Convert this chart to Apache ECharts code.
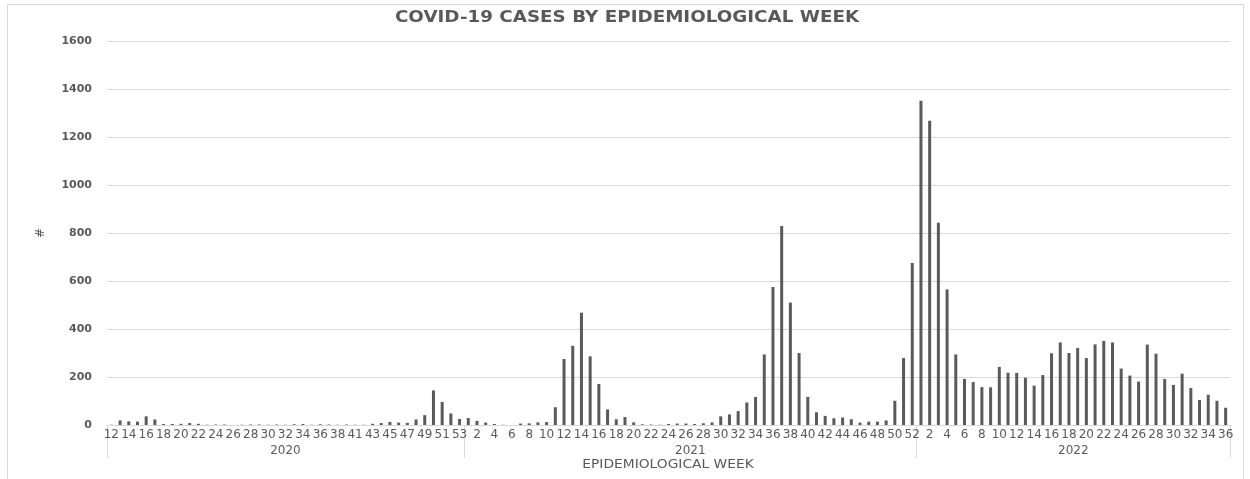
<!DOCTYPE html>
<html>
<head>
<meta charset="utf-8">
<script src="https://cdn.jsdelivr.net/npm/echarts@6/dist/echarts.min.js"></script>
<style>html,body{margin:0;padding:0;background:#fff}#c{width:1250px;height:479px}</style>
</head>
<body>
<div id="c"></div>
<script>
// ---- data ----
const years = ['2020', '2021', '2022'];
const weeks2020 = [12,13,14,15,16,17,18,19,20,21,22,23,24,25,26,27,28,29,30,31,32,33,34,35,36,37,38,40,41,42,43,44,45,46,47,48,49,50,51,52,53];
const cases2020 = [1,19,15,14,36,23,4,4,5,8,5,1,2,2,0,1,2,2,1,2,1,3,4,1,3,2,1,2,1,1,5,8,13,10,9,23,41,144,96,48,25];
const weeks2021 = [1,2,3,4,5,6,7,8,9,10,11,12,13,14,15,16,17,18,19,20,21,22,23,24,25,26,27,28,29,30,31,32,33,34,35,36,37,38,39,40,41,42,43,44,45,46,47,48,49,50,51,52];
const cases2021 = [29,17,10,4,1,0,6,7,11,12,74,275,330,468,286,171,65,24,33,11,3,2,1,4,6,6,4,7,11,36,44,58,94,117,294,575,829,510,300,117,53,38,28,31,24,10,14,14,19,101,279,675];
const weeks2022 = [1,2,3,4,5,6,7,8,9,10,11,12,13,14,15,16,17,18,19,20,21,22,23,24,25,26,27,28,29,30,31,32,33,34,35,36];
const cases2022 = [1351,1268,843,565,294,192,179,158,157,242,218,217,197,164,208,299,344,300,321,279,336,350,344,235,206,181,335,297,192,167,214,154,104,126,101,72];
const yTicks = [0,200,400,600,800,1000,1200,1400,1600];
const titleText = 'COVID-19 CASES BY EPIDEMIOLOGICAL WEEK';
const xTitle = 'EPIDEMIOLOGICAL WEEK';

const weekLists = [weeks2020, weeks2021, weeks2022];
const caseLists = [cases2020, cases2021, cases2022];
const categories = [].concat(...weekLists.map(w => w.map(String)));
const values = [].concat(...caseLists);
const bounds = [0];
weekLists.forEach(w => bounds.push(bounds[bounds.length - 1] + w.length));
const mids = years.map((y, i) => (bounds[i] + bounds[i + 1]) / 2);
const total = categories.length;

const chart = echarts.init(document.getElementById('c'));
const grey = '#595959';
chart.setOption({
  animation: false,
  graphic: [{
    type: 'rect', shape: { x: 7.5, y: 4.5, width: 1236, height: 480 },
    style: { fill: null, stroke: '#d9d9d9', lineWidth: 1 }, silent: true
  }, {
    type: 'text', x: 627, y: 11, scaleX: 1.22, silent: true,
    style: { text: titleText, textAlign: 'center', textVerticalAlign: 'top', fill: grey,
      font: 'bold 15px "DejaVu Sans"' }
  }, {
    type: 'text', x: 668, y: 459, scaleX: 1.15, silent: true,
    style: { text: xTitle, textAlign: 'center', textVerticalAlign: 'top', fill: grey,
      font: '12px "DejaVu Sans"' }
  }],
  grid: { left: 107, right: 20, top: 41, bottom: 54 },
  xAxis: [{
    type: 'category',
    data: categories,
    axisLine: { lineStyle: { color: '#d9d9d9' } },
    axisTick: { show: false },
    axisLabel: { interval: 1, margin: 4, fontFamily: 'DejaVu Sans', fontSize: 12, color: grey }
  }, {
    type: 'value', min: 0, max: total, position: 'bottom',
    axisLine: { show: false },
    splitLine: { show: false },
    axisTick: { show: true, customValues: bounds, length: 33, lineStyle: { color: '#d9d9d9' } },
    axisLabel: {
      customValues: mids, margin: 20, fontFamily: 'DejaVu Sans', fontSize: 12, color: grey,
      formatter: v => { for (let i = 0; i < years.length; i++) { if (v > bounds[i] && v < bounds[i + 1]) return years[i]; } return ''; }
    }
  }],
  yAxis: {
    type: 'value', min: yTicks[0], max: yTicks[yTicks.length - 1], interval: yTicks[1] - yTicks[0],
    axisLine: { show: false }, axisTick: { show: false },
    splitLine: { lineStyle: { color: '#d9d9d9' } },
    axisLabel: { margin: 15, fontFamily: 'DejaVu Sans', fontWeight: 'bold', fontSize: 11, color: grey,
      formatter: v => String(v) },
    name: '#', nameLocation: 'middle', nameRotate: 90, nameGap: 60,
    nameTextStyle: { fontFamily: 'DejaVu Sans', fontSize: 12, color: grey }
  },
  series: [{
    type: 'bar', xAxisIndex: 0, data: values, barWidth: 3,
    itemStyle: { color: '#5a5a5a' }
  }]
});
</script>
</body>
</html>
